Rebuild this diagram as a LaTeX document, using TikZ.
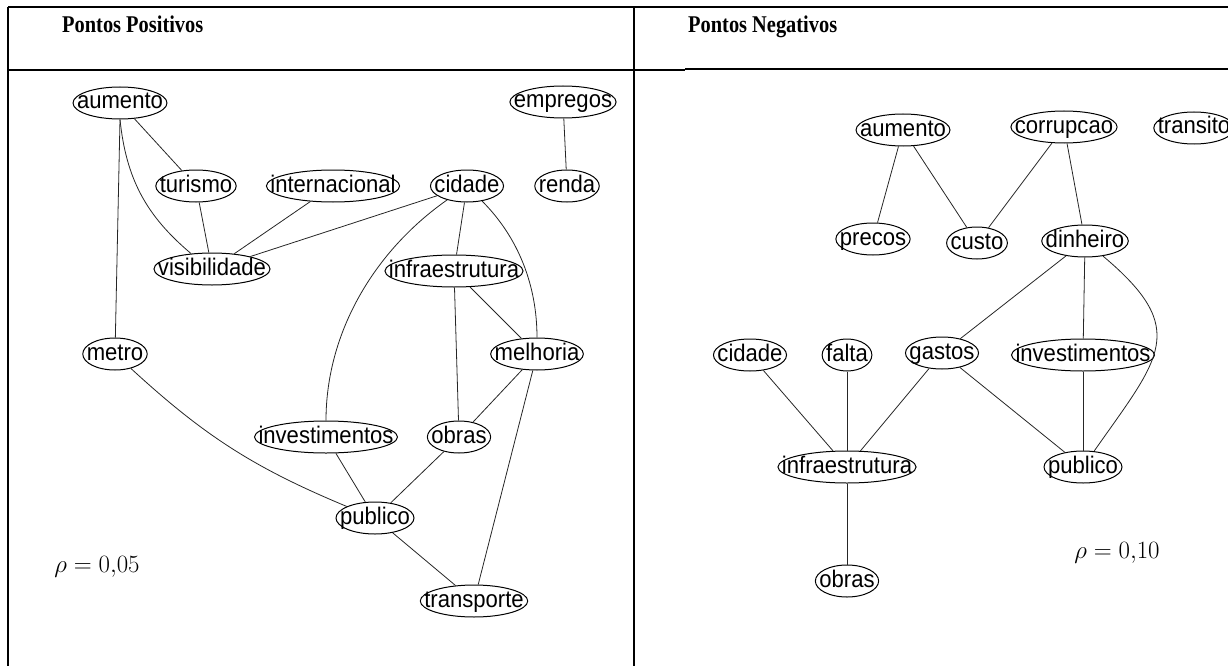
\documentclass[tikz,border=0pt]{standalone}
\usepackage{graphicx}
\usepackage{fontspec}
\setmainfont{Liberation Serif}
\newfontfamily\kwf{Liberation Sans}
\usetikzlibrary{shapes.geometric}
\newsavebox\kwbox
\newcommand\kwtxt[1]{\sbox\kwbox{\scalebox{0.92}[1]{#1}}\makebox[\dimexpr(\wd\kwbox+8pt)*1000/1414\relax]{\usebox\kwbox}}
\newcommand\hdtxt[1]{\scalebox{0.85}[1]{#1}}
\begin{document}
\begin{tikzpicture}[x=1pt,y=-1pt,
  kw/.style={ellipse, draw=black, line width=1pt, fill=white, inner sep=0pt,
     minimum height=32pt, text height=17pt, text depth=5pt,
     font=\kwf\fontsize{24}{28}\selectfont},
  edge/.style={draw=black!85, line width=0.8pt},
  rule/.style={line width=2.4pt, black},
  thinrule/.style={line width=1.4pt, black},
  hdr/.style={anchor=base west, inner sep=0pt, font=\bfseries\fontsize{24}{28}\selectfont},
  rho/.style={inner sep=0pt, font=\fontsize{24}{28}\selectfont}]
\useasboundingbox (0,0) rectangle (1228,666);
% table
\coordinate (tl) at (8,7);
\coordinate (tr) at (1228,7);
\coordinate (bl) at (8,666);
\coordinate (tm) at (634,7);
\coordinate (bm) at (634,666);
\coordinate (hl) at (8,70);
\coordinate (hm) at (685,70);
\coordinate (hr) at (1228,69);
\coordinate (hm2) at (685,69);
\draw[rule] (tl) -- (tr);
\draw[rule] (tl) -- (bl);
\draw[rule] (tm) -- (bm);
\draw[rule] (hl) -- (hm);
\draw[thinrule] (hm2) -- (hr);
\node[hdr] (h1) at (62,33) {\hdtxt{Pontos Positivos}};
\node[hdr] (h2) at (688,33) {\hdtxt{Pontos Negativos}};

% left graph
\node[kw] (aumL) at (120,103) {\kwtxt{aumento}};
\node[kw] (empL) at (563,102) {\kwtxt{empregos}};
\node[kw] (turL) at (196,186) {\kwtxt{turismo}};
\node[kw] (intL) at (333,186) {\kwtxt{internacional}};
\node[kw] (cidL) at (467,186) {\kwtxt{cidade}};
\node[kw] (renL) at (567,186) {\kwtxt{renda}};
\node[kw] (visL) at (212,269) {\kwtxt{visibilidade}};
\node[kw] (infL) at (454,271) {\kwtxt{infraestrutura}};
\node[kw] (metL) at (115,354) {\kwtxt{metro}};
\node[kw] (melL) at (537,354) {\kwtxt{melhoria}};
\node[kw] (invL) at (326,437) {\kwtxt{investimentos}};
\node[kw] (obrL) at (459,437) {\kwtxt{obras}};
\node[kw] (pubL) at (375,518) {\kwtxt{publico}};
\node[kw] (traL) at (474,601) {\kwtxt{transporte}};
\node[rho] (rhoL) at (97,567) {$\rho = 0{,}05$};

\draw[edge] (aumL) -- (turL);
\draw[edge] (aumL.south) to[bend right=22] (visL);
\draw[edge] (aumL.south) -- (metL);
\draw[edge] (turL) -- (visL);
\draw[edge] (intL) -- (visL);
\draw[edge] (cidL) -- (visL);
\draw[edge] (cidL) -- (infL);
\draw[edge] (cidL) to[out=215, in=90, looseness=0.9] (invL);
\draw[edge] (cidL) to[out=-45, in=90, looseness=0.9] (melL);
\draw[edge] (empL) -- (renL);
\draw[edge] (infL) -- (melL);
\draw[edge] (infL) -- (obrL);
\draw[edge] (melL) -- (obrL);
\draw[edge] (melL) -- (traL);
\draw[edge] (metL) to[bend right=10] (pubL);
\draw[edge] (invL) -- (pubL);
\draw[edge] (obrL) -- (pubL);
\draw[edge] (pubL) -- (traL);

% right graph
\node[kw] (aumR) at (903,130) {\kwtxt{aumento}};
\node[kw] (corR) at (1064,127) {\kwtxt{corrupcao}};
\node[kw] (traR) at (1194,128) {\kwtxt{transito}};
\node[kw] (preR) at (873,239) {\kwtxt{precos}};
\node[kw] (cusR) at (977,243) {\kwtxt{custo}};
\node[kw] (dinR) at (1085,241) {\kwtxt{dinheiro}};
\node[kw] (cidR) at (750,355) {\kwtxt{cidade}};
\node[kw] (falR) at (847,355) {\kwtxt{falta}};
\node[kw] (gasR) at (942,353) {\kwtxt{gastos}};
\node[kw] (invR) at (1083,355) {\kwtxt{investimentos}};
\node[kw] (infR) at (847,467) {\kwtxt{infraestrutura}};
\node[kw] (pubR) at (1083,467) {\kwtxt{publico}};
\node[kw] (obrR) at (847,581) {\kwtxt{obras}};
\node[rho] (rhoR) at (1117,553) {$\rho = 0{,}10$};

\draw[edge] (aumR) -- (preR);
\draw[edge] (aumR) -- (cusR);
\draw[edge] (corR) -- (cusR);
\draw[edge] (corR) -- (dinR);
\draw[edge] (dinR) -- (gasR);
\draw[edge] (dinR) -- (invR);
\draw[edge] (dinR) to[out=-40, in=55, looseness=1.5] (pubR);
\draw[edge] (cidR) -- (infR);
\draw[edge] (falR) -- (infR);
\draw[edge] (gasR) -- (infR);
\draw[edge] (gasR) -- (pubR);
\draw[edge] (invR) -- (pubR);
\draw[edge] (infR) -- (obrR);
\end{tikzpicture}
\end{document}
